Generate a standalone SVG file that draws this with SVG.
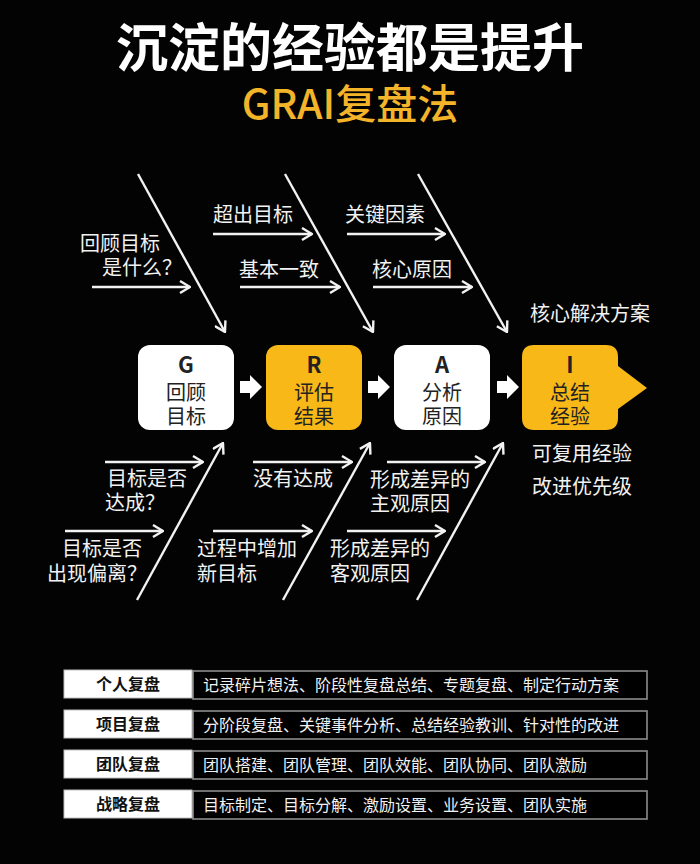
<svg xmlns="http://www.w3.org/2000/svg" width="700" height="864" viewBox="0 0 700 864">
<defs>
<style>
.t{font-family:"Noto Sans CJK SC","Noto Sans",sans-serif;}
.lbl{font-family:"Noto Sans CJK SC","Noto Sans",sans-serif;font-size:20px;fill:#f2f2f2;}
.bt{font-family:"Noto Sans CJK SC","Noto Sans",sans-serif;font-size:20px;fill:#222;text-anchor:middle;}
.bl{font-family:"Noto Sans CJK SC","Noto Sans",sans-serif;font-size:22px;font-weight:700;fill:#222;text-anchor:middle;}
.ln{stroke:#f2f2f2;stroke-width:2.4;fill:none;marker-end:url(#ah);}
.tl{fill:#fff;stroke:#bdbdbd;stroke-width:1;}
.tr{fill:#000;stroke:#8c8c8c;stroke-width:1.6;}
.tlt{font-family:"Noto Sans CJK SC","Noto Sans",sans-serif;font-size:16px;font-weight:700;fill:#111;text-anchor:middle;}
.trt{font-family:"Noto Sans CJK SC","Noto Sans",sans-serif;font-size:16px;fill:#f2f2f2;}
</style>
<marker id="ah" viewBox="0 0 12 14" refX="11" refY="7" markerWidth="12" markerHeight="14" markerUnits="userSpaceOnUse" orient="auto">
<path d="M1,1 L11,7 L1,13" fill="none" stroke="#f2f2f2" stroke-width="2.4" stroke-linejoin="miter"/>
</marker>
<path id="blk" d="M0,-6 H10 V-12 L22,0 L10,12 V6 H0 Z" fill="#fff"/>
</defs>
<rect width="700" height="864" fill="#030303"/>

<g id="title">
<text class="t" x="350" y="67" font-size="52" font-weight="700" fill="#fff" text-anchor="middle">沉淀的经验都是提升</text>
<text class="t" x="350" y="119" font-size="41" font-weight="500" fill="#F4B42A" text-anchor="middle">GRAI复盘法</text>
</g>

<g id="connectors">
<line class="ln" x1="138" y1="174" x2="225" y2="332"/>
<line class="ln" x1="285" y1="174" x2="373" y2="332"/>
<line class="ln" x1="418" y1="174" x2="507" y2="332"/>
<line class="ln" x1="92" y1="287" x2="190" y2="287"/>
<line class="ln" x1="213" y1="234" x2="312" y2="234"/>
<line class="ln" x1="240" y1="287" x2="340" y2="287"/>
<line class="ln" x1="347" y1="234" x2="445" y2="234"/>
<line class="ln" x1="373" y1="287" x2="472" y2="287"/>
<line class="ln" x1="137" y1="600" x2="223" y2="443"/>
<line class="ln" x1="283" y1="600" x2="370" y2="443"/>
<line class="ln" x1="417" y1="600" x2="503" y2="443"/>
<line class="ln" x1="105" y1="462" x2="203" y2="462"/>
<line class="ln" x1="65" y1="531" x2="163" y2="531"/>
<line class="ln" x1="253" y1="462" x2="352" y2="462"/>
<line class="ln" x1="213" y1="531" x2="312" y2="531"/>
<line class="ln" x1="387" y1="462" x2="485" y2="462"/>
<line class="ln" x1="347" y1="531" x2="445" y2="531"/>
<use href="#blk" x="240" y="387"/>
<use href="#blk" x="368" y="387"/>
<use href="#blk" x="497" y="387"/>
</g>

<g id="labels">
<text class="lbl" x="80" y="251">回顾目标</text>
<text class="lbl" x="102" y="275">是什么？</text>
<text class="lbl" x="213" y="222">超出目标</text>
<text class="lbl" x="239" y="277">基本一致</text>
<text class="lbl" x="345" y="222">关键因素</text>
<text class="lbl" x="372" y="277">核心原因</text>
<text class="lbl" x="530" y="321">核心解决方案</text>
<text class="lbl" x="107" y="486">目标是否</text>
<text class="lbl" x="105" y="510">达成？</text>
<text class="lbl" x="62" y="556">目标是否</text>
<text class="lbl" x="47" y="581">出现偏离？</text>
<text class="lbl" x="253" y="486">没有达成</text>
<text class="lbl" x="197" y="556">过程中增加</text>
<text class="lbl" x="197" y="581">新目标</text>
<text class="lbl" x="370" y="487">形成差异的</text>
<text class="lbl" x="370" y="511">主观原因</text>
<text class="lbl" x="330" y="556">形成差异的</text>
<text class="lbl" x="330" y="581">客观原因</text>
<text class="lbl" x="532" y="461">可复用经验</text>
<text class="lbl" x="532" y="494">改进优先级</text>
</g>

<g id="node-G">
<rect x="138" y="345" width="96" height="85" rx="12" fill="#fff"/>
<text class="bl" x="186" y="373">G</text>
<text class="bt" x="186" y="400">回顾</text>
<text class="bt" x="186" y="424">目标</text>
</g>
<g id="node-R">
<rect x="266" y="345" width="96" height="85" rx="12" fill="#F7B818"/>
<text class="bl" x="314" y="373">R</text>
<text class="bt" x="314" y="400">评估</text>
<text class="bt" x="314" y="424">结果</text>
</g>
<g id="node-A">
<rect x="394" y="345" width="96" height="85" rx="12" fill="#fff"/>
<text class="bl" x="442" y="373">A</text>
<text class="bt" x="442" y="400">分析</text>
<text class="bt" x="442" y="424">原因</text>
</g>
<g id="node-I">
<path d="M534,345 H606 Q618,345 618,357 V366 L647,388 L618,409 V418 Q618,430 606,430 H534 Q522,430 522,418 V357 Q522,345 534,345 Z" fill="#F7B818"/>
<text class="bl" x="570" y="373">I</text>
<text class="bt" x="570" y="400">总结</text>
<text class="bt" x="570" y="424">经验</text>
</g>

<g id="table">
<g id="row1">
<rect class="tr" x="193" y="671" width="454" height="28"/>
<rect class="tl" x="64" y="670" width="128" height="28"/>
<text class="tlt" x="128" y="690">个人复盘</text>
<text class="trt" x="203" y="691">记录碎片想法、阶段性复盘总结、专题复盘、制定行动方案</text>
</g>
<g id="row2">
<rect class="tr" x="193" y="711" width="454" height="28"/>
<rect class="tl" x="64" y="710" width="128" height="28"/>
<text class="tlt" x="128" y="730">项目复盘</text>
<text class="trt" x="203" y="731">分阶段复盘、关键事件分析、总结经验教训、针对性的改进</text>
</g>
<g id="row3">
<rect class="tr" x="193" y="751" width="454" height="28"/>
<rect class="tl" x="64" y="750" width="128" height="28"/>
<text class="tlt" x="128" y="770">团队复盘</text>
<text class="trt" x="203" y="771">团队搭建、团队管理、团队效能、团队协同、团队激励</text>
</g>
<g id="row4">
<rect class="tr" x="193" y="791" width="454" height="28"/>
<rect class="tl" x="64" y="790" width="128" height="28"/>
<text class="tlt" x="128" y="810">战略复盘</text>
<text class="trt" x="203" y="811">目标制定、目标分解、激励设置、业务设置、团队实施</text>
</g>
</g>
</svg>
